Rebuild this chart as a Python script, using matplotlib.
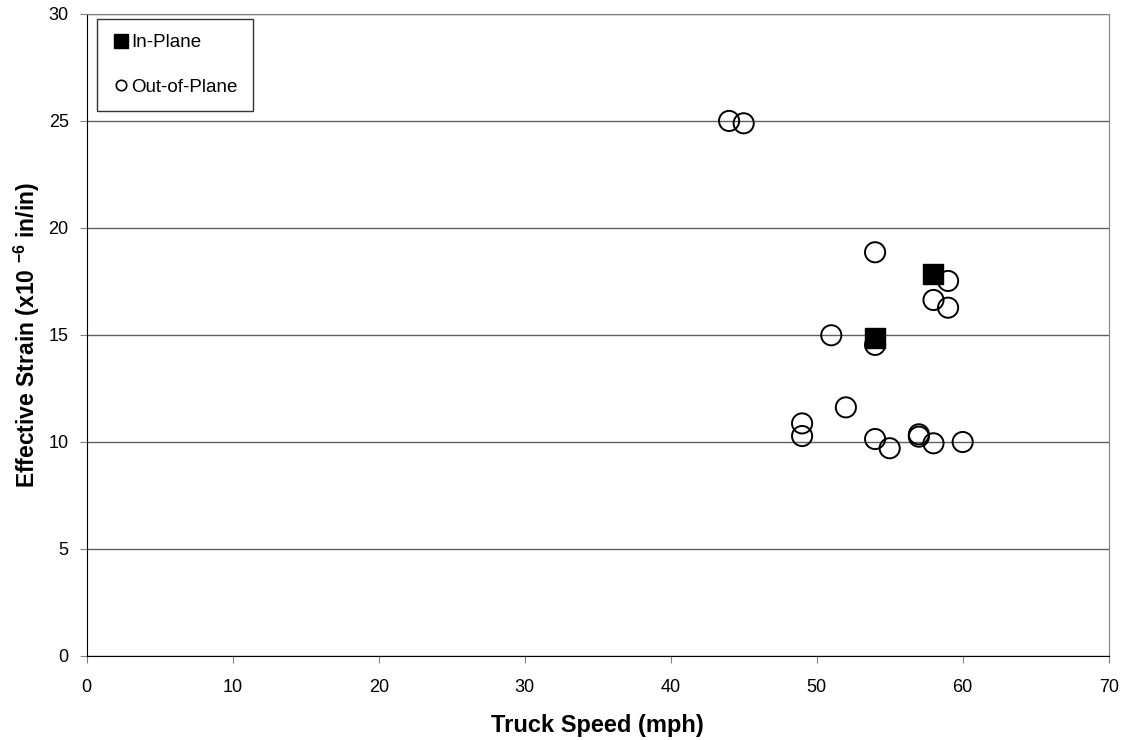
import matplotlib
matplotlib.use("Agg")
import matplotlib.pyplot as plt
from matplotlib.lines import Line2D

plt.rcParams['font.family'] = ['Liberation Sans', 'DejaVu Sans']
plt.rcParams['mathtext.fontset'] = 'custom'
plt.rcParams['mathtext.rm'] = 'Liberation Sans'
plt.rcParams['mathtext.bf'] = 'Liberation Sans:bold'

# In-plane measurements
in_speed = [58, 54]
in_strain = [17.84, 14.84]

# Out-of-plane measurements
out_speed = [44, 45, 54, 59, 58, 59, 51, 54, 52, 49, 49, 54, 55, 57, 57, 58, 60]
out_strain = [25.0, 24.89, 18.86, 17.52, 16.63, 16.27, 14.98, 14.53, 11.61,
              10.86, 10.27, 10.13, 9.70, 10.35, 10.24, 9.93, 9.99]

fig = plt.figure(figsize=(11.29, 7.40), dpi=100)
ax = fig.add_axes([0.0768, 0.1139, 0.9052, 0.8672])

ax.scatter(out_speed, out_strain, s=14.5**2, facecolors='none', edgecolors='black',
           linewidths=1.4, zorder=3)
ax.scatter(in_speed, in_strain, s=15**2, marker='s', color='black', zorder=4)

ax.set_xlim(0, 70)
ax.set_ylim(0, 30)
ax.set_xticks(range(0, 71, 10))
ax.set_yticks(range(0, 31, 5))
ax.yaxis.grid(True, color='#606060', linewidth=1)
ax.set_axisbelow(True)
ax.tick_params(direction='out', length=5, color='#808080', labelsize=13, pad=8)
ax.tick_params(axis='x', pad=11.5)

for side in ['top', 'right']:
    ax.spines[side].set_color('#808080')
for side in ['left', 'bottom']:
    ax.spines[side].set_color('black')

ax.set_xlabel('Truck Speed (mph)', fontsize=17, fontweight='bold', labelpad=13)
ax.set_ylabel('Effective Strain (x10 $^{\\mathbf{-6}}$ in/in)', fontsize=16.5,
              fontweight='bold', labelpad=5)

# legend
handles = [
    Line2D([], [], linestyle='none', marker='s', markersize=9.5, color='black'),
    Line2D([], [], linestyle='none', marker='o', markersize=7.5, markerfacecolor='none',
           markeredgecolor='black', markeredgewidth=1.2),
]
leg = ax.legend(handles, ['In-Plane', 'Out-of-Plane'], loc='upper left',
                bbox_to_anchor=(0.01, 0.992), fontsize=13.5, frameon=True, fancybox=False,
                edgecolor='black', handletextpad=0.05, handlelength=1.0,
                labelspacing=1.45, borderpad=0.8, borderaxespad=0)
leg.get_frame().set_linewidth(1)

plt.savefig('out.png', dpi=100)
plt.close()
